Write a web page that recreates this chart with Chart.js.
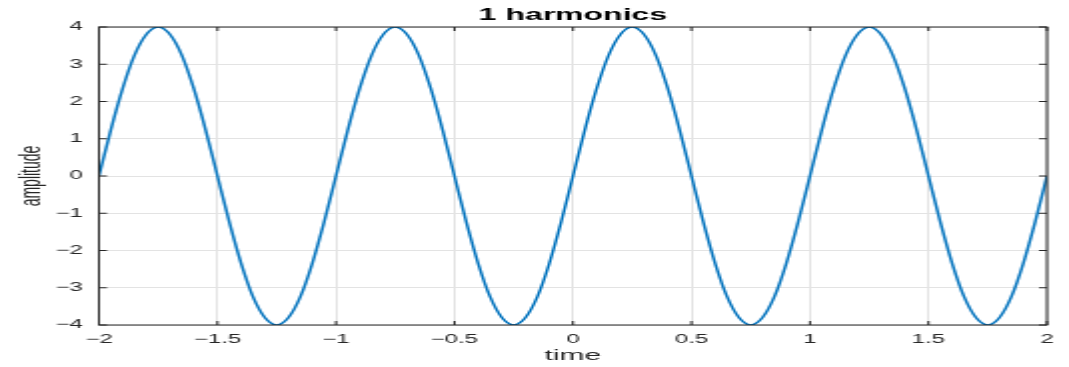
<!DOCTYPE html>
<html>
<head>
<meta charset="utf-8">
<title>1 harmonics</title>
<script src="https://cdn.jsdelivr.net/npm/chart.js@4"></script>
<style>
  html, body { margin: 0; padding: 0; background: #fff; overflow: hidden; }
  /* the figure is drawn narrow and stretched sideways */
  #wrap { width: 535px; height: 367px; transform: scaleX(1.998); transform-origin: 0 0; }
</style>
</head>
<body>
<div id="wrap"><canvas id="harmonicChart"></canvas></div>
<script>
// time samples (s), step 0.05
const time = [
  -2, -1.95, -1.9, -1.85, -1.8, -1.75, -1.7, -1.65, -1.6, -1.55,
  -1.5, -1.45, -1.4, -1.35, -1.3, -1.25, -1.2, -1.15, -1.1, -1.05,
  -1, -0.95, -0.9, -0.85, -0.8, -0.75, -0.7, -0.65, -0.6, -0.55,
  -0.5, -0.45, -0.4, -0.35, -0.3, -0.25, -0.2, -0.15, -0.1, -0.05,
  0, 0.05, 0.1, 0.15, 0.2, 0.25, 0.3, 0.35, 0.4, 0.45,
  0.5, 0.55, 0.6, 0.65, 0.7, 0.75, 0.8, 0.85, 0.9, 0.95,
  1, 1.05, 1.1, 1.15, 1.2, 1.25, 1.3, 1.35, 1.4, 1.45,
  1.5, 1.55, 1.6, 1.65, 1.7, 1.75, 1.8, 1.85, 1.9, 1.95,
  2
];

// amplitude of the first harmonic at each time sample
const amplitude = [
  0, 1.24, 2.35, 3.24, 3.80, 4, 3.80, 3.24, 2.35, 1.24,
  0, -1.24, -2.35, -3.24, -3.80, -4, -3.80, -3.24, -2.35, -1.24,
  0, 1.24, 2.35, 3.24, 3.80, 4, 3.80, 3.24, 2.35, 1.24,
  0, -1.24, -2.35, -3.24, -3.80, -4, -3.80, -3.24, -2.35, -1.24,
  0, 1.24, 2.35, 3.24, 3.80, 4, 3.80, 3.24, 2.35, 1.24,
  0, -1.24, -2.35, -3.24, -3.80, -4, -3.80, -3.24, -2.35, -1.24,
  0, 1.24, 2.35, 3.24, 3.80, 4, 3.80, 3.24, 2.35, 1.24,
  0, -1.24, -2.35, -3.24, -3.80, -4, -3.80, -3.24, -2.35, -1.24,
  0
];

// axis ticks
const timeTicks = [-2, -1.5, -1, -0.5, 0, 0.5, 1, 1.5, 2];
const ampTicks = [-4, -3, -2, -1, 0, 1, 2, 3, 4];

const axisColor = '#262626';
const gridColor = '#e3e3e3';
const fontFamily = '"Liberation Sans", Arial, Helvetica, sans-serif';

// minus sign like the plotting software uses
const fmt = v => String(v).replace('-', '\u2212');

// closed box round the plot with small inward ticks on all four sides
const boxFrame = {
  id: 'boxFrame',
  afterDatasetsDraw(chart) {
    const { ctx, chartArea: a, scales: { x, y } } = chart;
    const tl = 4;
    ctx.save();
    ctx.strokeStyle = axisColor;
    ctx.lineWidth = 1;
    ctx.strokeRect(a.left, a.top, a.width, a.height);
    ctx.beginPath();
    x.ticks.forEach(t => {
      const px = x.getPixelForValue(t.value);
      ctx.moveTo(px, a.bottom); ctx.lineTo(px, a.bottom - tl);
      ctx.moveTo(px, a.top); ctx.lineTo(px, a.top + tl);
    });
    y.ticks.forEach(t => {
      const py = y.getPixelForValue(t.value);
      ctx.moveTo(a.left, py); ctx.lineTo(a.left + tl, py);
      ctx.moveTo(a.right, py); ctx.lineTo(a.right - tl, py);
    });
    ctx.stroke();
    ctx.restore();
  }
};

new Chart(document.getElementById('harmonicChart'), {
  type: 'line',
  data: {
    datasets: [{
      label: 'amplitude',
      data: time.map((t, i) => ({ x: t, y: amplitude[i] })),
      borderColor: '#0072BD',
      borderWidth: 1.5,
      pointRadius: 0,
      cubicInterpolationMode: 'monotone',
      fill: false
    }]
  },
  options: {
    responsive: true,
    maintainAspectRatio: false,
    animation: false,
    devicePixelRatio: 1,
    layout: { padding: { top: 0, right: 11, bottom: 0, left: 0 } },
    plugins: {
      legend: { display: false },
      tooltip: { enabled: false },
      title: {
        display: true,
        text: '1 harmonics',
        color: '#000',
        fullSize: false,
        font: { family: fontFamily, size: 16, weight: 'bold' },
        padding: { top: 6, bottom: 1.8 }
      }
    },
    scales: {
      x: {
        type: 'linear',
        min: -2,
        max: 2,
        afterBuildTicks: s => { s.ticks = timeTicks.map(v => ({ value: v })); },
        afterFit: s => { s.height = 42; },
        ticks: {
          color: axisColor,
          padding: 7,
          font: { family: fontFamily, size: 12 },
          callback: v => fmt(v)
        },
        grid: { color: gridColor, lineWidth: 1, drawTicks: false },
        border: { display: false },
        title: {
          display: true,
          text: 'time',
          color: axisColor,
          font: { family: fontFamily, size: 15 },
          padding: { top: 2, bottom: 2 }
        }
      },
      y: {
        min: -4,
        max: 4,
        afterBuildTicks: s => { s.ticks = ampTicks.map(v => ({ value: v })); },
        afterFit: s => { s.width = 49.5; },
        ticks: {
          color: axisColor,
          padding: 8,
          font: { family: fontFamily, size: 12 },
          callback: v => fmt(v)
        },
        grid: { color: gridColor, lineWidth: 1, drawTicks: false },
        border: { display: false },
        title: {
          display: true,
          text: 'amplitude',
          color: axisColor,
          font: { family: fontFamily, size: 14 },
          padding: { top: 8, bottom: 0 }
        }
      }
    }
  },
  plugins: [boxFrame]
});
</script>
</body>
</html>
